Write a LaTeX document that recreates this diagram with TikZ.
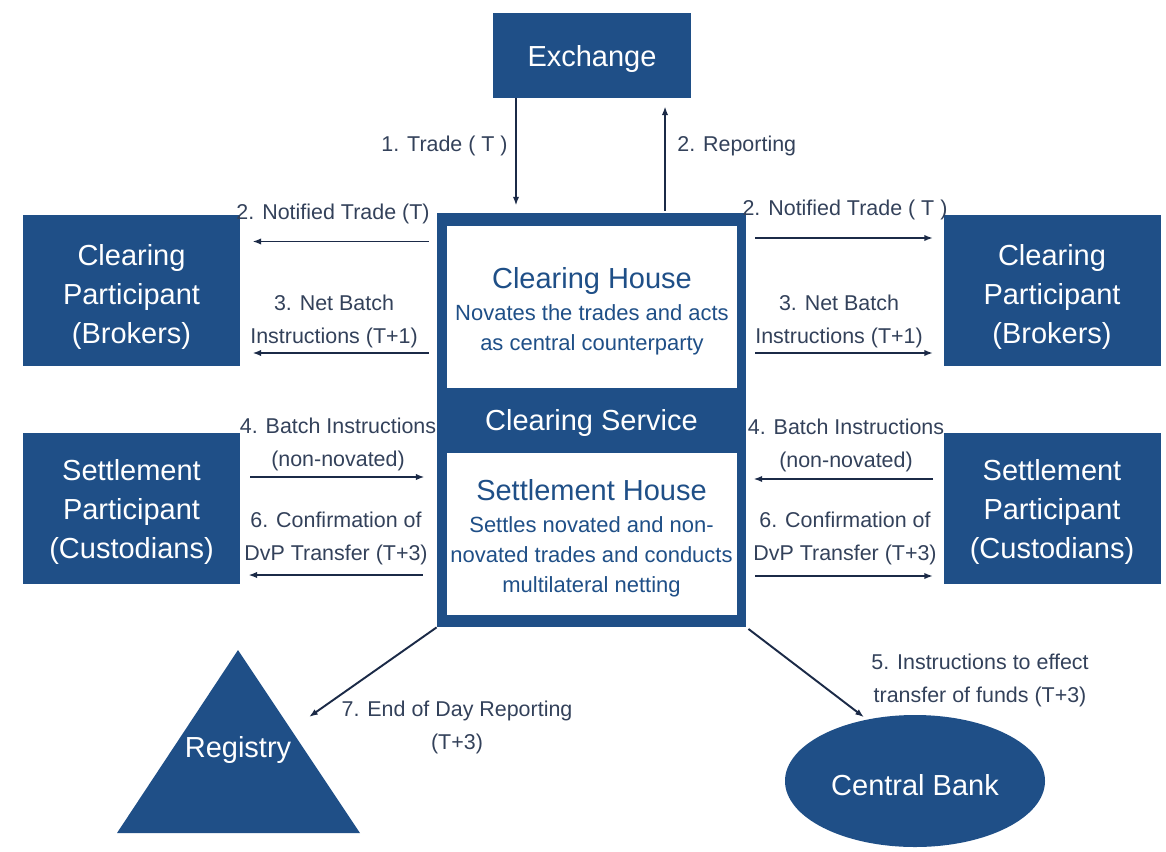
\documentclass[tikz,border=0pt]{standalone}
\usepackage{fontspec}
\setmainfont{Liberation Sans}
\usepackage{xcolor}
\usetikzlibrary{shapes.geometric}
\usetikzlibrary{arrows.meta}
\definecolor{boxblue}{HTML}{1F4F87}
\definecolor{lblgray}{HTML}{33415A}
\definecolor{arrnavy}{HTML}{1B2A47}
\tikzset{
    boxtext/.style = {text=white, align=center, inner sep=0pt, font=\fontsize{16.5}{22.2}\selectfont, yshift=-1.8pt},
    bluebox/.style = {rectangle, fill=boxblue, inner sep=0pt, label={[boxtext]center:#1}},
    whitebox/.style = {rectangle, fill=white, inner sep=0pt, minimum width=58mm, minimum height=32.4mm,
        label={[boxtext, text=boxblue, font=\fontsize{12.5}{17}\selectfont, yshift=-0.5pt]center:#1}},
    partbox/.style = {rectangle, fill=boxblue, inner sep=0pt, minimum width=43.4mm, minimum height=30.2mm},
    lbl/.style = {align=center, text=lblgray, inner sep=0pt, font=\fontsize{12.2}{18.8}\selectfont},
}
\newcommand{\boxtitle}[1]{{\fontsize{16.5}{19}\selectfont #1}\\[1.2pt]}
\begin{document}
\begin{tikzpicture}[x=0.2mm, y=-0.2mm]
\tikzset{
    arr/.style = {-{Latex[length=5pt,width=3.6pt]}, line width=1.1pt, draw=arrnavy},
}
\useasboundingbox (0,0) rectangle (1166,851);
% boxes
\node[bluebox={Exchange}, minimum width=39.6mm, minimum height=17mm] at (592,55.5) (exch) {};
\node[bluebox={Clearing Service}, minimum width=61.8mm, minimum height=82.8mm] at (591.5,420) (cs) {};
\node[whitebox={\boxtitle{Clearing House}Novates the trades and acts\\as central counterparty}] at (592,307) (ch) {};
\node[whitebox={\boxtitle{Settlement House}Settles novated and non-\\novated trades and conducts\\multilateral netting}] at (591.5,534) (sh) {};
\node[partbox, label={[boxtext, yshift=-1.7pt]center:Clearing\\Participant\\(Brokers)}] at (131.5,290.5) (lcp) {};
\node[partbox, label={[boxtext]center:Settlement\\Participant\\(Custodians)}] at (131.5,508.5) (lsp) {};
\node[partbox, label={[boxtext, yshift=-1.7pt]center:Clearing\\Participant\\(Brokers)}] at (1052,290.5) (rcp) {};
\node[partbox, label={[boxtext]center:Settlement\\Participant\\(Custodians)}] at (1052,508.5) (rsp) {};
\node[ellipse, fill=boxblue, inner sep=0pt, minimum width=52mm, minimum height=26.4mm,
    label={[boxtext, yshift=-0.6pt]center:Central Bank}] at (915,781) (cb) {};
%
\fill[boxblue] (238,650) -- (360,833) -- (117,833) -- cycle;
\node[boxtext] at (238,747) (reg) {Registry};
\coordinate (regin) at (309,717);
%
\draw[arr, shorten >=4pt] (exch.south -| 516,0) -- (cs.north -| 516,0);
\draw[arr, shorten <=1pt, shorten >=4.5pt] (cs.north -| 665,0) -- (exch.south -| 665,0);
\node[lbl, anchor=east] at (508,146) (l1) {1. Trade ( T )};
\node[lbl, anchor=west] at (677,146) (l2) {2. Reporting};
%
\draw[arr, shorten <=4.5pt, shorten >=6.8pt] (cs.west |- 0,241.5) -- (lcp.east |- 0,241.5);
\draw[arr, shorten <=4.5pt, shorten >=6.8pt] (cs.west |- 0,353) -- (lcp.east |- 0,353);
\draw[arr, shorten <=5.7pt, shorten >=6.8pt] (lsp.east |- 0,477) -- (cs.west |- 0,477);
\draw[arr, shorten <=8pt, shorten >=4.5pt] (cs.west |- 0,575) -- (lsp.east |- 0,575);
\node[lbl] at (333,214) (lnt) {2. Notified Trade (T)};
\node[lbl] at (334,321) (lnb) {3. Net Batch\\Instructions (T+1)};
\node[lbl] at (338,444) (lbi) {4. Batch Instructions\\(non-novated)};
\node[lbl] at (336,538) (lcf) {6. Confirmation of\\DvP Transfer (T+3)};
%
\draw[arr, shorten <=5pt, shorten >=5.7pt] (cs.east |- 0,238) -- (rcp.west |- 0,238);
\draw[arr, shorten <=5pt, shorten >=5.7pt] (cs.east |- 0,353) -- (rcp.west |- 0,353);
\draw[arr, shorten <=5.7pt, shorten >=4pt] (rsp.west |- 0,479) -- (cs.east |- 0,479);
\draw[arr, shorten <=5pt, shorten >=5.7pt] (cs.east |- 0,576) -- (rsp.west |- 0,576);
\node[lbl] at (845,210) (rnt) {2. Notified Trade ( T )};
\node[lbl] at (839,321) (rnb) {3. Net Batch\\Instructions (T+1)};
\node[lbl] at (846,445) (rbi) {4. Batch Instructions\\(non-novated)};
\node[lbl] at (845,538) (rcf) {6. Confirmation of\\DvP Transfer (T+3)};
%
\draw[arr] (cs.south west) -- (regin);
\draw[arr, shorten <=1.5pt, shorten >=2pt] (cs.south east) -- (cb.128);
\node[lbl] at (457,727) (leod) {7. End of Day Reporting\\(T+3)};
\node[lbl] at (980,680) (lfund) {5. Instructions to effect\\transfer of funds (T+3)};
\end{tikzpicture}
\end{document}
